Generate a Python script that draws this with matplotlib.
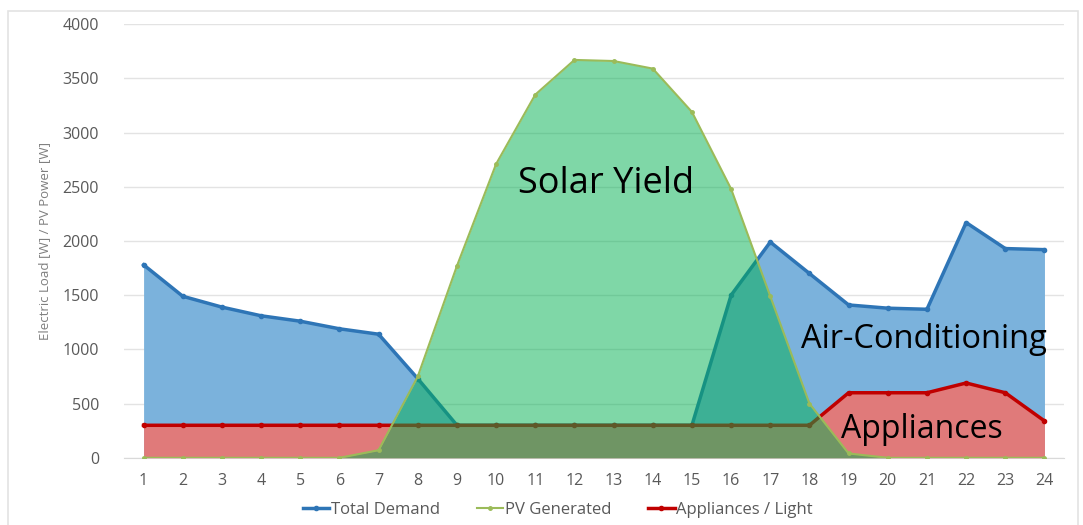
import numpy as np
import matplotlib
matplotlib.use("Agg")
import matplotlib.pyplot as plt
from matplotlib.patches import Rectangle

hours = list(range(1, 25))
total_demand = [1780, 1490, 1390, 1310, 1260, 1190, 1140, 730, 300, 300, 300, 300,
                300, 300, 300, 1500, 1990, 1700, 1410, 1380, 1370, 2170, 1930, 1920]
pv_generated = [0, 0, 0, 0, 0, 0, 70, 750, 1770, 2710, 3350, 3670,
                3660, 3590, 3190, 2480, 1490, 500, 40, 0, 0, 0, 0, 0]
appliances = [300] * 18 + [600, 600, 600, 690, 600, 340]

yticks = [0, 500, 1000, 1500, 2000, 2500, 3000, 3500, 4000]
ylabel = "Electric Load [W] / PV Power [W]"

plt.rcParams["font.family"] = ["Open Sans", "DejaVu Sans"]

fig = plt.figure(figsize=(10.83, 5.25), dpi=100)
ax = fig.add_axes([0.1145, 0.128, 0.868, 0.826])

# light chart border like the spreadsheet export
fig.patches.append(Rectangle((0.007, -0.01), 0.988, 0.99, transform=fig.transFigure,
                             fill=False, edgecolor="#e3e3e3", lw=1.2))

x = np.array(hours)
blue_line, blue_fill = "#2e75b6", "#7bb2dc"
red_line, red_fill = "#c00000", "#e07a7a"
green_fill, green_line = "#00b050", "#9bbb59"

ax.fill_between(x, total_demand, 0, color=blue_fill, lw=0, zorder=2)
ax.plot(x, total_demand, color=blue_line, lw=2.5, marker="o", ms=3, zorder=3,
        label="Total Demand")
ax.fill_between(x, appliances, 0, color=red_fill, lw=0, zorder=4)
ax.plot(x, appliances, color=red_line, lw=2.5, marker="o", ms=3, zorder=5,
        label="Appliances / Light")
ax.fill_between(x, pv_generated, 0, color=green_fill, alpha=0.5, lw=0, zorder=6)
ax.plot(x, pv_generated, color=green_line, lw=1.5, marker="o", ms=2.5, zorder=7,
        label="PV Generated")

ax.set_xlim(0.5, 24.5)
ax.set_ylim(0, 4000)
ax.set_xticks(hours)
ax.set_yticks(yticks)
ax.tick_params(length=0, labelsize=11.5, labelcolor="#595959", pad=11)
ax.tick_params(axis="y", pad=18)
ax.grid(axis="y", color="#e3e3e3", lw=1, zorder=0)
ax.set_axisbelow(True)
for s in ["top", "right", "left"]:
    ax.spines[s].set_visible(False)
ax.spines["bottom"].set_color("#d9d9d9")
ax.set_ylabel(ylabel, fontsize=9.5, color="#7f7f7f", labelpad=8)

ax.text(12.82, 2530, "Solar Yield", fontsize=26, ha="center", va="center", zorder=10)
ax.text(24.05, 1088, "Air-Conditioning", fontsize=23.5, ha="right", va="center", zorder=10)
ax.text(20.86, 258, "Appliances", fontsize=23, ha="center", va="center", zorder=10)

h, l = ax.get_legend_handles_labels()
order = [0, 2, 1]
leg = fig.legend([h[i] for i in order], [l[i] for i in order], loc="lower center",
                 bbox_to_anchor=(0.515, -0.015), ncol=3, frameon=False, fontsize=12,
                 handlelength=1.6, handletextpad=0.1, columnspacing=2.2)
for t in leg.get_texts():
    t.set_color("#595959")

fig.savefig("out.png", dpi=100)
